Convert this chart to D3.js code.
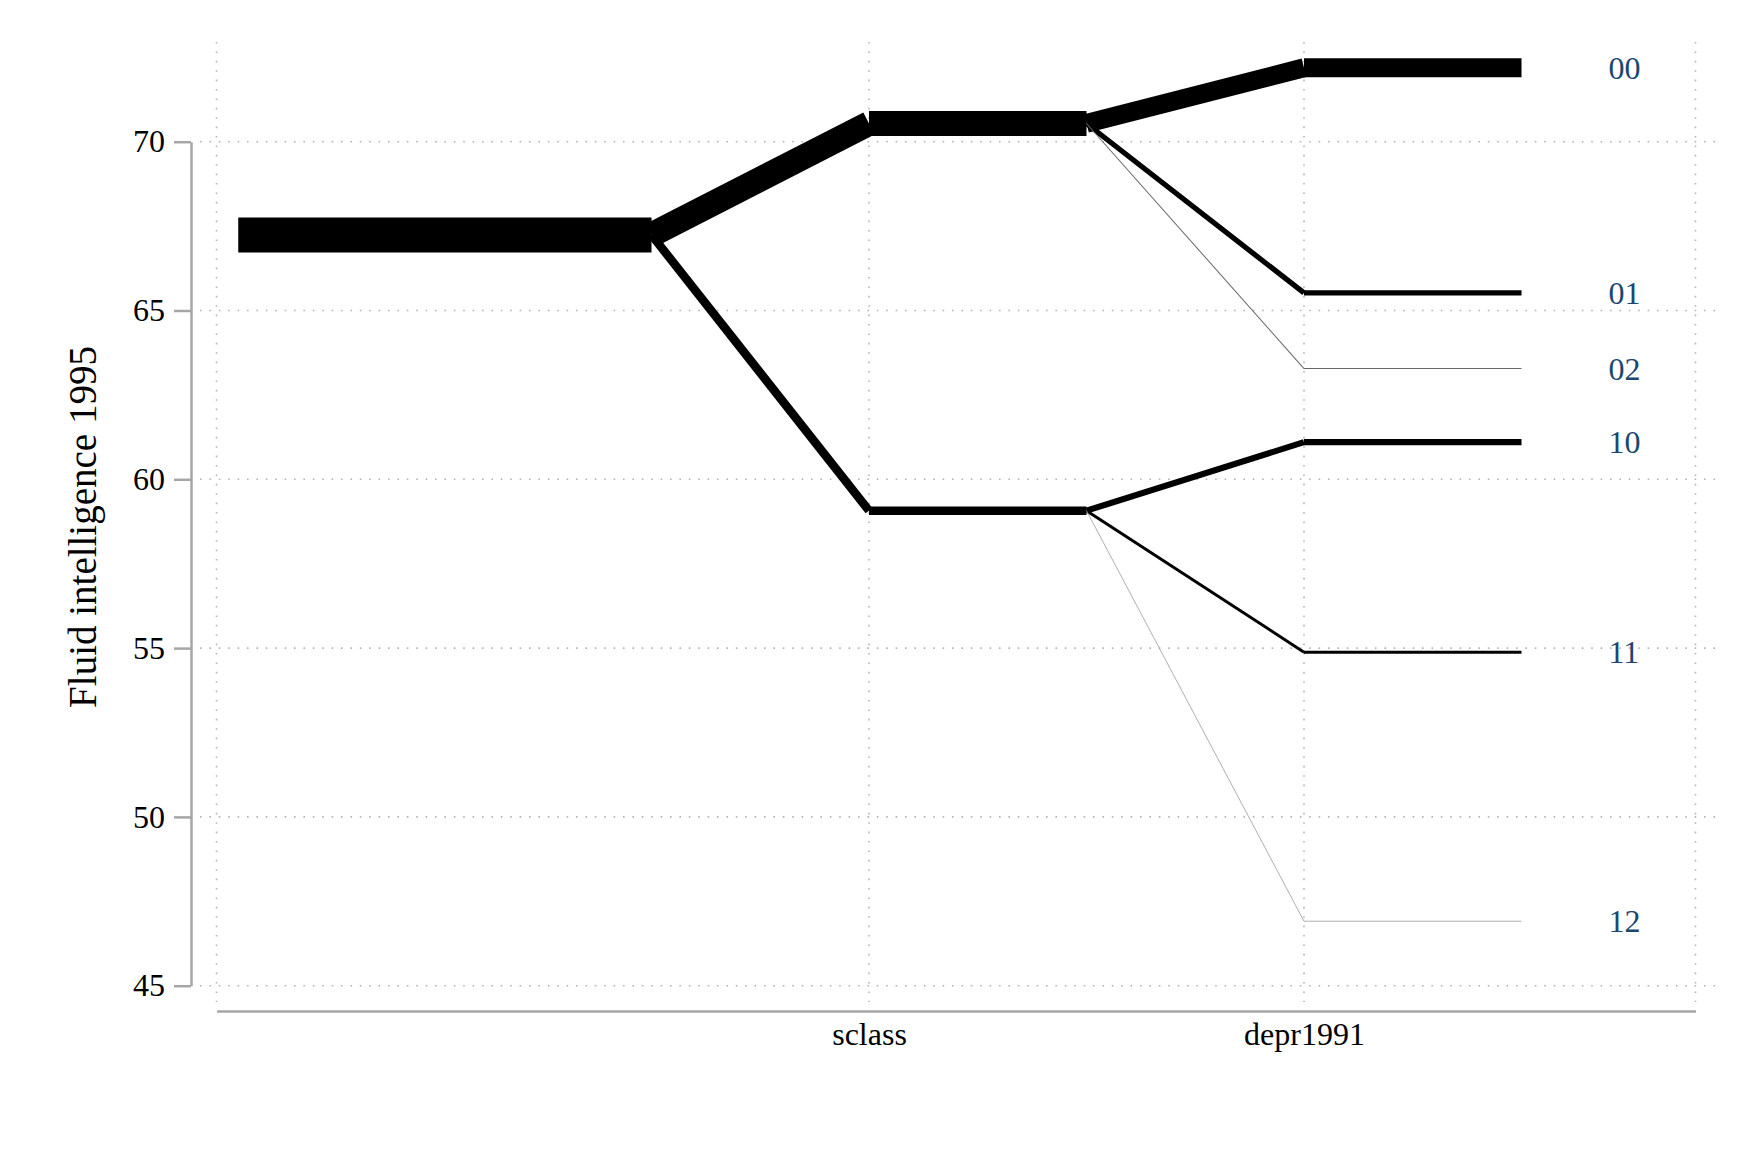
<!DOCTYPE html>
<html>
<head>
<meta charset="utf-8">
<script src="https://cdn.jsdelivr.net/npm/d3@7"></script>
<style>
  html, body { margin: 0; padding: 0; background: #fff; }
  svg { display: block; }
  text { font-family: "Liberation Serif", "Times New Roman", serif; }
</style>
</head>
<body>
<svg id="chart" width="1764" height="1176"></svg>
<script>
// ---------------- data ----------------
const yTitle = "Fluid intelligence 1995";
const xCategories = ["sclass", "depr1991"];
const xCategoryPos = [3, 5];
const yTicks = [45, 50, 55, 60, 65, 70];

const rootValue = 67.24;
const rootShare = 100;

const sclassLevels = ["0", "1"];
const sclassValues = [70.54, 59.07];
const sclassShares = [71, 24.5];

const deprLabels = ["00", "01", "02", "10", "11", "12"];
const deprValues = [72.19, 65.52, 63.28, 61.10, 54.88, 46.91];
const deprParent = [0, 0, 0, 1, 1, 1];
const deprShares = [54, 15, 2.9, 17.5, 8.5, 2.3];

// ---------------- layout ----------------
const svg = d3.select("#chart");
const W = 1764, H = 1176;
svg.append("rect").attr("width", W).attr("height", H).attr("fill", "#fff");

const x = d3.scaleLinear().domain([0, 6.8]).range([216.5, 1695.5]);
const y = d3.scaleLinear().domain([45, 70]).range([985.7, 141.7]);
const width = d3.scaleLinear().domain([0, 100]).range([0, 35]);
const strokeCol = d3.scaleLinear().domain([0.8, 1.05, 2]).range(["#9c9c9c", "#606060", "#000"]).clamp(true);

const plotLeft = 200, plotRight = 1717, plotTop = 42, plotBottom = 1002;
const gridColor = "#b4b4b4";
const axisColor = "#a6a6a6";

// grid lines
const grid = svg.append("g");
grid.selectAll("line.h").data(yTicks).join("line")
  .attr("x1", plotLeft).attr("x2", plotRight)
  .attr("y1", d => y(d)).attr("y2", d => y(d))
  .attr("stroke", gridColor).attr("stroke-width", 1.6)
  .attr("stroke-dasharray", "1.6,7.8");
grid.selectAll("line.v").data([0, ...xCategoryPos, 6.8]).join("line")
  .attr("x1", d => x(d)).attr("x2", d => x(d))
  .attr("y1", plotTop).attr("y2", plotBottom)
  .attr("stroke", gridColor).attr("stroke-width", 1.6)
  .attr("stroke-dasharray", "1.6,7.8");

// y axis
const yAxis = svg.append("g").attr("transform", "translate(191,0)")
  .call(d3.axisLeft(y).tickValues(yTicks).tickSize(17).tickSizeOuter(0).tickPadding(9).tickFormat(d3.format("d")));
yAxis.select(".domain").attr("stroke", axisColor).attr("stroke-width", 2.5);
yAxis.selectAll(".tick line").attr("stroke", axisColor).attr("stroke-width", 2.5);
yAxis.selectAll(".tick text").attr("font-size", 32).attr("fill", "#000")
  .attr("font-family", "'Liberation Serif', 'Times New Roman', serif");

// x axis
const xAxis = svg.append("g").attr("transform", "translate(0,1011)")
  .call(d3.axisBottom(x).tickValues(xCategoryPos).tickSize(0).tickSizeOuter(0).tickPadding(11)
    .tickFormat((d, i) => xCategories[i]));
xAxis.select(".domain").attr("stroke", axisColor).attr("stroke-width", 2.5);
xAxis.selectAll(".tick text").attr("font-size", 32).attr("fill", "#000")
  .attr("font-family", "'Liberation Serif', 'Times New Roman', serif");

// y title
svg.append("text")
  .attr("transform", "translate(96,527) rotate(-90)")
  .attr("text-anchor", "middle")
  .attr("font-size", 39)
  .attr("fill", "#000")
  .text(yTitle);

// ---------------- segments ----------------
const segs = [];
segs.push({x1: 0.1, y1: rootValue, x2: 2, y2: rootValue, n: rootShare});
sclassValues.forEach((v, i) => {
  segs.push({x1: 2, y1: rootValue, x2: 3, y2: v, n: sclassShares[i]});
  segs.push({x1: 3, y1: v, x2: 4, y2: v, n: sclassShares[i]});
});
deprValues.forEach((v, j) => {
  const pv = sclassValues[deprParent[j]];
  segs.push({x1: 4, y1: pv, x2: 5, y2: v, n: deprShares[j]});
  segs.push({x1: 5, y1: v, x2: 6, y2: v, n: deprShares[j]});
});

svg.append("g").selectAll("line").data(segs).join("line")
  .attr("x1", d => x(d.x1)).attr("y1", d => y(d.y1))
  .attr("x2", d => x(d.x2)).attr("y2", d => y(d.y2))
  .attr("stroke", d => strokeCol(width(d.n)))
  .attr("stroke-width", d => width(d.n))
  .attr("stroke-linecap", "butt");

// end labels
svg.append("g").selectAll("text").data(deprLabels).join("text")
  .attr("x", x(6.4))
  .attr("y", (d, j) => y(deprValues[j]))
  .attr("dy", "0.35em")
  .attr("font-size", 32)
  .attr("fill", "#1a476f")
  .text(d => d);
</script>
</body>
</html>
